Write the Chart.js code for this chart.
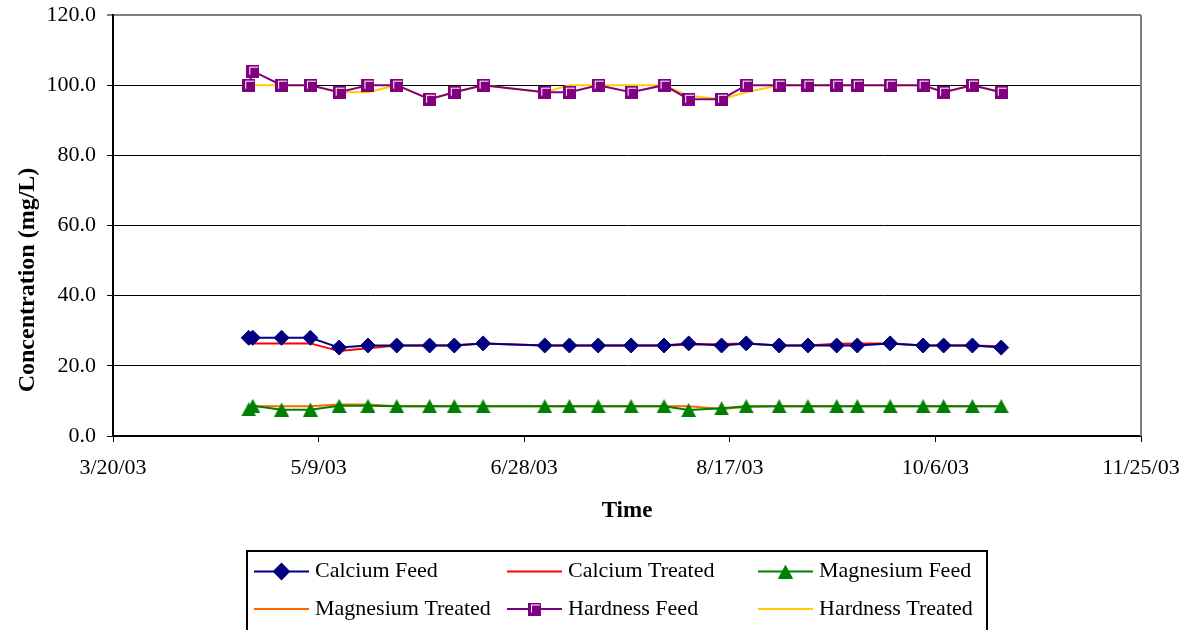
<!DOCTYPE html>
<html>
<head>
<meta charset="utf-8">
<script src="https://cdn.jsdelivr.net/npm/chart.js@4.4.0/dist/chart.umd.min.js"></script>
<style>
  body { margin: 0; background: #fff; }
  #wrap { width: 1190px; height: 630px; }
</style>
</head>
<body>
<div id="wrap"><canvas id="chart"></canvas></div>
<script>
// sampling dates (feed has an extra sample on 4/23)
const feedDates = ['4/22/03','4/23/03','4/30/03','5/7/03','5/14/03','5/21/03','5/28/03','6/5/03','6/11/03','6/18/03',
  '7/3/03','7/9/03','7/16/03','7/24/03','8/1/03','8/7/03','8/15/03','8/21/03','8/29/03','9/5/03',
  '9/12/03','9/17/03','9/25/03','10/3/03','10/8/03','10/15/03','10/22/03'];
const treatedDates = feedDates.filter(d => d !== '4/23/03');

const calciumFeed = [28.0, 28.0, 28.0, 28.0, 25.2, 25.8, 25.8, 25.8, 25.8, 26.4,
  25.8, 25.8, 25.8, 25.8, 25.8, 26.4, 25.8, 26.4, 25.8, 25.8,
  25.8, 25.8, 26.4, 25.8, 25.8, 25.8, 25.2];
const calciumTreated = [26.4, 26.4, 26.4, 24.2, 25.0, 25.8, 25.8, 25.9, 26.4,
  25.8, 25.8, 25.8, 25.8, 25.8, 26.0, 26.2, 26.4, 25.8, 25.8,
  26.3, 26.4, 26.4, 25.8, 25.8, 25.8, 25.6];
const magnesiumFeed = [7.6, 8.6, 7.5, 7.5, 8.6, 8.6, 8.5, 8.5, 8.5, 8.5,
  8.5, 8.5, 8.5, 8.5, 8.5, 7.4, 7.9, 8.5, 8.5, 8.5,
  8.5, 8.5, 8.5, 8.5, 8.5, 8.5, 8.5];
const magnesiumTreated = [8.5, 8.5, 8.5, 9.0, 9.0, 8.5, 8.5, 8.5, 8.5,
  8.5, 8.5, 8.5, 8.5, 8.5, 8.5, 7.7, 8.3, 8.5, 8.5,
  8.5, 8.5, 8.5, 8.5, 8.5, 8.5, 8.5];
const hardnessFeed = [100, 104, 100, 100, 98, 100, 100, 96, 98, 100,
  98, 98, 100, 98, 100, 96, 96, 100, 100, 100,
  100, 100, 100, 100, 98, 100, 98];
const hardnessTreated = [100, 100, 100, 98, 98, 100, 96, 98, 100,
  98, 100, 100, 100, 100, 97, 96, 98, 100, 100,
  100, 100, 100, 100, 98, 100, 98];

const xTickLabels = ['3/20/03', '5/9/03', '6/28/03', '8/17/03', '10/6/03', '11/25/03'];
const yTickLabels = ['0.0', '20.0', '40.0', '60.0', '80.0', '100.0', '120.0'];
const yTitle = 'Concentration (mg/L)';

const DAY = 86400000;
function parseDate(s) {
  const [m, d, y] = s.split('/').map(Number);
  return Date.UTC(2000 + y, m - 1, d);
}
const t0 = parseDate(xTickLabels[0]);
const pts = (dates, vals) => dates.map((d, i) => ({ x: (parseDate(d) - t0) / DAY, y: vals[i] }));

// marker images
function squareMarker() {
  const c = document.createElement('canvas');
  c.width = 13; c.height = 13;
  const g = c.getContext('2d');
  g.fillStyle = '#800080';
  g.fillRect(0, 0, 13, 13);
  g.fillStyle = '#fff';
  g.fillRect(3, 2, 9, 1);
  g.fillRect(3, 2, 1, 8);
  return c;
}
function triangleMarker() {
  const c = document.createElement('canvas');
  c.width = 15; c.height = 14;
  const g = c.getContext('2d');
  g.fillStyle = '#008000';
  g.beginPath();
  g.moveTo(7.5, 0);
  g.lineTo(15, 14);
  g.lineTo(0, 14);
  g.closePath();
  g.fill();
  return c;
}
const sq = squareMarker();
const tri = triangleMarker();

const serif = "'Liberation Serif', 'Times New Roman', serif";
Chart.defaults.font.family = serif;
Chart.defaults.font.size = 22;
Chart.defaults.color = '#000';

const legendRows = [
  ['Calcium Feed', 'Calcium Treated', 'Magnesium Feed'],
  ['Magnesium Treated', 'Hardness Feed', 'Hardness Treated']
];

const boxLegend = {
  id: 'boxLegend',
  afterDraw(chart) {
    const ctx = chart.ctx;
    const colX = [254, 507, 758];
    const rowY = [571.5, 609];
    ctx.save();
    ctx.strokeStyle = '#000';
    ctx.lineWidth = 2;
    ctx.strokeRect(247, 551, 740, 100);
    ctx.font = '22px ' + serif;
    ctx.textBaseline = 'middle';
    ctx.textAlign = 'left';
    legendRows.forEach((row, r) => {
      row.forEach((label, c) => {
        const ds = chart.data.datasets.find(d => d.label === label);
        const x = colX[c], y = rowY[r];
        ctx.strokeStyle = ds.borderColor;
        ctx.lineWidth = 2;
        ctx.beginPath();
        ctx.moveTo(x, y);
        ctx.lineTo(x + 55, y);
        ctx.stroke();
        if (ds.pointRadius > 0) {
          ctx.fillStyle = ds.backgroundColor;
          ctx.strokeStyle = ds.borderColor;
          Chart.helpers.drawPoint(ctx, { pointStyle: ds.pointStyle, radius: ds.pointRadius, rotation: 0, borderWidth: 1 }, x + 27.5, y);
        }
        ctx.fillStyle = '#000';
        ctx.fillText(label, x + 61, y);
      });
    });
    // gray plot border on the right
    const a = chart.chartArea;
    ctx.strokeStyle = '#808080';
    ctx.lineWidth = 2;
    ctx.beginPath();
    ctx.moveTo(a.right, a.top);
    ctx.lineTo(a.right, a.bottom);
    ctx.stroke();
    // y axis title, sits lower than the plot centre in the original
    ctx.translate(28, 280);
    ctx.rotate(-Math.PI / 2);
    ctx.font = 'bold 24px ' + serif;
    ctx.textAlign = 'center';
    ctx.fillStyle = '#000';
    ctx.fillText(yTitle, 0, 0);
    ctx.restore();
  }
};

new Chart(document.getElementById('chart'), {
  type: 'line',
  data: {
    datasets: [
      { label: 'Calcium Feed', data: pts(feedDates, calciumFeed), borderColor: '#000080', backgroundColor: '#000080',
        pointStyle: 'rectRot', pointRadius: 7.5, borderWidth: 2, pointBorderWidth: 1, order: 0 },
      { label: 'Calcium Treated', data: pts(treatedDates, calciumTreated), borderColor: '#FF0000', backgroundColor: '#FF0000',
        pointRadius: 0, borderWidth: 2, order: 1 },
      { label: 'Magnesium Feed', data: pts(feedDates, magnesiumFeed), borderColor: '#008000', backgroundColor: '#008000',
        pointStyle: tri, pointRadius: 7, borderWidth: 2, order: 0 },
      { label: 'Magnesium Treated', data: pts(treatedDates, magnesiumTreated), borderColor: '#FF6600', backgroundColor: '#FF6600',
        pointRadius: 0, borderWidth: 2, order: 1 },
      { label: 'Hardness Feed', data: pts(feedDates, hardnessFeed), borderColor: '#800080', backgroundColor: '#800080',
        pointStyle: sq, pointRadius: 6, borderWidth: 2, order: 0 },
      { label: 'Hardness Treated', data: pts(treatedDates, hardnessTreated), borderColor: '#FFCC00', backgroundColor: '#FFCC00',
        pointRadius: 0, borderWidth: 2, order: 1 }
    ]
  },
  options: {
    responsive: true,
    maintainAspectRatio: false,
    animation: false,
    layout: { padding: { left: 11, top: 15, right: 49, bottom: 104 } },
    plugins: {
      legend: { display: false },
      tooltip: { enabled: false }
    },
    elements: { line: { tension: 0 } },
    scales: {
      x: {
        type: 'linear',
        min: 0,
        max: 250,
        afterFit: s => { s.height = 90; s.paddingLeft = 0; s.paddingRight = 0; },
        ticks: {
          stepSize: 50,
          padding: 13,
          maxRotation: 0,
          callback: (v, i) => xTickLabels[i]
        },
        grid: { drawOnChartArea: false, drawTicks: true, tickLength: 6, tickColor: '#000', tickWidth: 1 },
        border: { color: '#000', width: 2 },
        title: { display: true, text: 'Time', font: { weight: 'bold', size: 23 }, padding: { top: 0, bottom: 1 } }
      },
      y: {
        min: 0,
        max: 120,
        afterFit: s => { s.width = 102; s.paddingTop = 0; s.paddingBottom = 0; },
        ticks: {
          stepSize: 20,
          padding: 11,
          callback: (v, i) => yTickLabels[i]
        },
        grid: {
          color: c => (c.tick && c.tick.value === 120 ? '#808080' : '#000'),
          lineWidth: c => (c.tick && c.tick.value === 120 ? 2 : 1),
          tickLength: 6,
          tickColor: '#000',
          tickWidth: 1
        },
        border: { color: '#000', width: 2 },
        title: { display: false }
      }
    }
  },
  plugins: [boxLegend]
});
</script>
</body>
</html>
